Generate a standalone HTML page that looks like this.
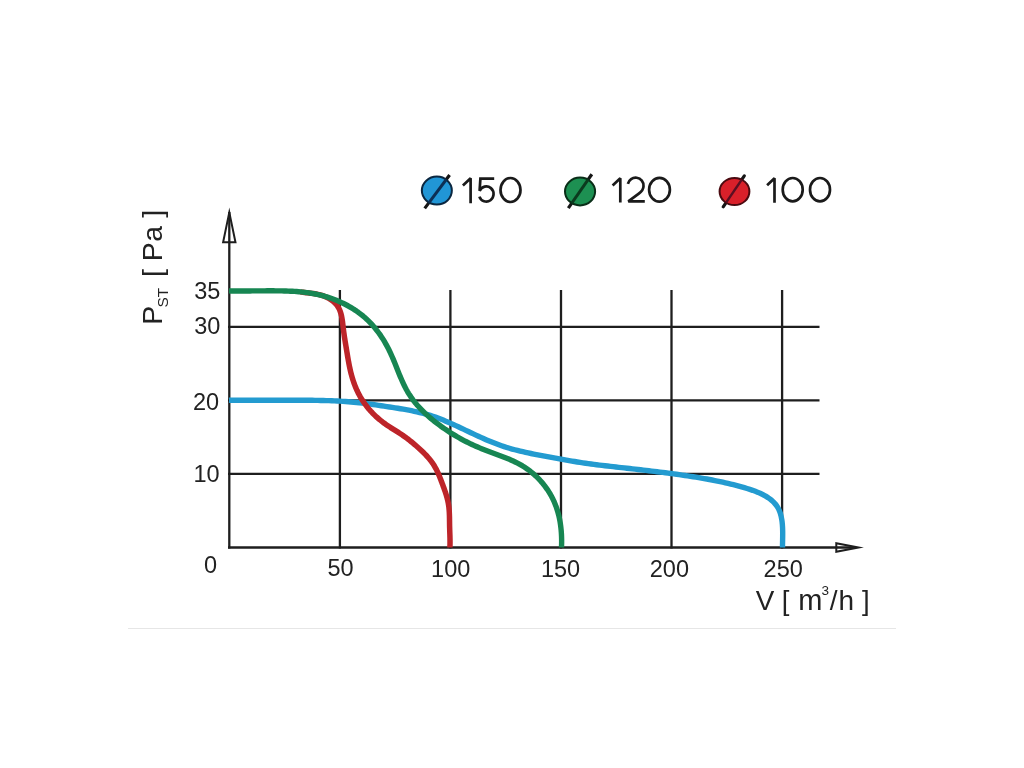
<!DOCTYPE html>
<html><head><meta charset="utf-8"><style>
html,body{margin:0;padding:0;background:#fff;width:1024px;height:768px;overflow:hidden}
svg{display:block;will-change:transform}
text{font-family:"Liberation Sans",sans-serif;fill:#222}
</style></head><body>
<svg width="1024" height="768" viewBox="0 0 1024 768">
<rect width="1024" height="768" fill="#fff"/>
<line x1="128" y1="628.5" x2="896" y2="628.5" stroke="#e6e6e6" stroke-width="1"/>
<g stroke="#1e1e1e" stroke-width="2.3" fill="none">
<line x1="339.9" y1="290" x2="339.9" y2="548.5"/><line x1="450.4" y1="290" x2="450.4" y2="548.5"/><line x1="561.0" y1="290" x2="561.0" y2="548.5"/><line x1="671.5" y1="290" x2="671.5" y2="548.5"/><line x1="782.1" y1="290" x2="782.1" y2="548.5"/><line x1="228" y1="473.9" x2="819.5" y2="473.9"/><line x1="228" y1="400.4" x2="819.5" y2="400.4"/><line x1="228" y1="326.9" x2="819.5" y2="326.9"/>
<line x1="229.3" y1="212" x2="229.3" y2="548.6"/>
<line x1="228" y1="547.5" x2="856" y2="547.5" stroke-width="2.5"/>
<path d="M229.3 207.4 L236.7 243.3 L221.9 243.3 Z M229.3 217.3 L224.35 241.3 L234.25 241.3 Z" stroke="none" fill="#1e1e1e" fill-rule="evenodd"/>
<path d="M863.9 547.5 L835.3 552.9 L835.3 542.1 Z M853.1 547.5 L837.3 544.5 L837.3 550.5 Z" stroke="none" fill="#1e1e1e" fill-rule="evenodd"/>
</g>
<g fill="none" stroke-linecap="butt" stroke-linejoin="round">
<path d="M229.00 400.20 L231.77 400.20 L234.55 400.20 L237.32 400.20 L240.10 400.20 L242.87 400.20 L245.65 400.20 L248.42 400.20 L251.20 400.20 L253.97 400.20 L256.75 400.20 L259.53 400.20 L262.30 400.20 L265.08 400.20 L267.85 400.20 L270.63 400.20 L273.40 400.20 L276.17 400.20 L278.95 400.20 L281.72 400.19 L284.50 400.19 L287.27 400.19 L290.04 400.20 L292.82 400.20 L295.59 400.21 L298.37 400.22 L301.14 400.23 L303.92 400.25 L306.70 400.27 L309.47 400.29 L312.25 400.32 L315.03 400.36 L317.81 400.40 L320.59 400.45 L323.37 400.51 L326.14 400.59 L328.92 400.67 L331.70 400.77 L334.47 400.88 L337.24 401.01 L340.01 401.16 L342.78 401.33 L345.54 401.51 L348.31 401.72 L351.06 401.95 L353.82 402.21 L356.57 402.48 L359.32 402.78 L362.07 403.09 L364.81 403.42 L367.56 403.77 L370.30 404.14 L373.05 404.51 L375.79 404.90 L378.53 405.30 L381.28 405.71 L384.02 406.13 L386.77 406.55 L389.52 406.97 L392.27 407.40 L395.02 407.84 L397.77 408.28 L400.52 408.73 L403.27 409.20 L406.02 409.68 L408.76 410.19 L411.49 410.72 L414.21 411.28 L416.92 411.87 L419.62 412.50 L422.31 413.16 L424.98 413.87 L427.63 414.62 L430.27 415.41 L432.89 416.26 L435.49 417.16 L438.07 418.10 L440.64 419.08 L443.19 420.10 L445.73 421.15 L448.27 422.24 L450.79 423.35 L453.31 424.48 L455.82 425.63 L458.33 426.79 L460.83 427.97 L463.33 429.16 L465.84 430.35 L468.34 431.54 L470.85 432.73 L473.36 433.92 L475.88 435.09 L478.41 436.26 L480.94 437.41 L483.47 438.54 L486.02 439.66 L488.57 440.75 L491.14 441.81 L493.71 442.84 L496.30 443.84 L498.89 444.81 L501.50 445.74 L504.13 446.62 L506.77 447.47 L509.42 448.27 L512.08 449.03 L514.76 449.75 L517.45 450.44 L520.14 451.10 L522.85 451.73 L525.56 452.34 L528.27 452.92 L530.99 453.49 L533.72 454.04 L536.44 454.58 L539.17 455.11 L541.90 455.63 L544.62 456.14 L547.35 456.66 L550.07 457.17 L552.79 457.68 L555.51 458.18 L558.23 458.68 L560.96 459.17 L563.68 459.66 L566.40 460.14 L569.13 460.61 L571.86 461.07 L574.59 461.53 L577.32 461.97 L580.06 462.40 L582.81 462.81 L585.56 463.22 L588.31 463.61 L591.07 463.99 L593.83 464.35 L596.59 464.71 L599.36 465.06 L602.13 465.40 L604.89 465.73 L607.66 466.05 L610.43 466.37 L613.19 466.69 L615.96 467.00 L618.72 467.31 L621.47 467.62 L624.22 467.92 L626.97 468.23 L629.71 468.53 L632.45 468.84 L635.19 469.15 L637.92 469.46 L640.66 469.77 L643.39 470.09 L646.13 470.41 L648.87 470.73 L651.61 471.06 L654.35 471.39 L657.10 471.73 L659.85 472.07 L662.61 472.42 L665.38 472.77 L668.16 473.14 L670.94 473.51 L673.72 473.88 L676.51 474.27 L679.29 474.66 L682.08 475.06 L684.86 475.47 L687.64 475.88 L690.41 476.31 L693.17 476.74 L695.92 477.18 L698.66 477.63 L701.39 478.09 L704.10 478.55 L706.79 479.03 L709.47 479.52 L712.14 480.02 L714.80 480.53 L717.45 481.06 L720.10 481.61 L722.75 482.18 L725.40 482.77 L728.06 483.38 L730.73 484.02 L733.41 484.69 L736.10 485.38 L738.81 486.11 L741.54 486.87 L744.29 487.67 L747.07 488.50 L749.85 489.38 L752.62 490.32 L755.35 491.32 L758.04 492.39 L760.67 493.55 L763.22 494.79 L765.67 496.14 L768.00 497.59 L770.20 499.15 L772.25 500.84 L774.13 502.66 L775.83 504.63 L777.32 506.74 L778.60 509.01 L779.66 511.43 L780.53 513.98 L781.22 516.64 L781.75 519.39 L782.14 522.22 L782.41 525.09 L782.58 527.99 L782.67 530.90 L782.69 533.81 L782.67 536.68 L782.62 539.51 L782.56 542.27 L782.51 544.94 L782.50 547.50" stroke="#239bd0" stroke-width="5.4"/>
<path d="M300.20 291.86 L301.64 292.10 L303.09 292.31 L304.55 292.50 L306.02 292.67 L307.48 292.84 L308.95 293.01 L310.42 293.18 L311.89 293.37 L313.36 293.57 L314.82 293.79 L316.28 294.04 L317.73 294.33 L319.18 294.65 L320.61 295.02 L322.03 295.45 L323.44 295.92 L324.82 296.46 L326.19 297.04 L327.52 297.69 L328.82 298.38 L330.08 299.14 L331.30 299.94 L332.47 300.81 L333.58 301.72 L334.64 302.69 L335.64 303.72 L336.57 304.80 L337.42 305.93 L338.20 307.12 L338.90 308.36 L339.52 309.65 L340.07 310.98 L340.55 312.36 L340.97 313.77 L341.34 315.21 L341.67 316.68 L341.95 318.17 L342.20 319.68 L342.42 321.19 L342.62 322.72 L342.81 324.24 L342.99 325.77 L343.16 327.29 L343.34 328.79 L343.52 330.28 L343.71 331.76 L343.91 333.22 L344.12 334.67 L344.33 336.12 L344.55 337.55 L344.77 338.98 L345.00 340.41 L345.23 341.83 L345.46 343.25 L345.69 344.67 L345.93 346.10 L346.17 347.52 L346.40 348.96 L346.64 350.40 L346.88 351.85 L347.12 353.30 L347.36 354.76 L347.60 356.22 L347.85 357.68 L348.10 359.15 L348.36 360.62 L348.63 362.09 L348.90 363.56 L349.19 365.02 L349.48 366.48 L349.79 367.94 L350.11 369.40 L350.44 370.84 L350.79 372.28 L351.15 373.72 L351.53 375.14 L351.92 376.56 L352.33 377.97 L352.77 379.38 L353.21 380.77 L353.68 382.16 L354.17 383.54 L354.68 384.91 L355.21 386.27 L355.77 387.62 L356.34 388.96 L356.94 390.30 L357.57 391.62 L358.22 392.94 L358.89 394.24 L359.59 395.53 L360.31 396.82 L361.06 398.09 L361.83 399.34 L362.62 400.59 L363.43 401.82 L364.27 403.04 L365.13 404.24 L366.01 405.43 L366.91 406.60 L367.84 407.76 L368.79 408.90 L369.75 410.02 L370.74 411.13 L371.75 412.21 L372.77 413.28 L373.82 414.34 L374.88 415.37 L375.96 416.39 L377.05 417.38 L378.16 418.36 L379.28 419.32 L380.41 420.25 L381.56 421.17 L382.72 422.07 L383.89 422.95 L385.07 423.80 L386.26 424.64 L387.45 425.46 L388.65 426.26 L389.86 427.05 L391.08 427.83 L392.29 428.61 L393.51 429.37 L394.73 430.14 L395.95 430.90 L397.16 431.67 L398.38 432.44 L399.59 433.22 L400.79 434.01 L401.99 434.81 L403.18 435.62 L404.36 436.45 L405.54 437.29 L406.70 438.15 L407.86 439.03 L409.02 439.92 L410.16 440.82 L411.30 441.73 L412.44 442.66 L413.57 443.60 L414.69 444.55 L415.80 445.51 L416.91 446.49 L418.02 447.47 L419.12 448.47 L420.21 449.47 L421.30 450.49 L422.38 451.52 L423.45 452.56 L424.50 453.61 L425.54 454.68 L426.56 455.76 L427.56 456.86 L428.54 457.97 L429.49 459.10 L430.41 460.25 L431.31 461.41 L432.18 462.59 L433.01 463.80 L433.81 465.02 L434.57 466.27 L435.29 467.53 L435.99 468.81 L436.66 470.11 L437.30 471.43 L437.92 472.75 L438.52 474.09 L439.09 475.44 L439.65 476.80 L440.20 478.16 L440.74 479.53 L441.26 480.91 L441.78 482.29 L442.30 483.67 L442.81 485.05 L443.32 486.44 L443.83 487.82 L444.33 489.21 L444.81 490.60 L445.28 491.99 L445.74 493.38 L446.18 494.78 L446.60 496.19 L446.99 497.60 L447.37 499.01 L447.71 500.43 L448.02 501.86 L448.30 503.30 L448.54 504.75 L448.75 506.20 L448.93 507.66 L449.07 509.13 L449.19 510.60 L449.29 512.08 L449.36 513.56 L449.42 515.04 L449.46 516.53 L449.49 518.02 L449.51 519.51 L449.53 520.99 L449.55 522.48 L449.57 523.96 L449.59 525.44 L449.62 526.91 L449.67 528.38 L449.71 529.85 L449.76 531.31 L449.81 532.78 L449.86 534.24 L449.91 535.70 L449.95 537.16 L449.98 538.63 L450.01 540.09 L450.02 541.56 L450.02 543.04 L450.00 544.52 L449.96 546.01 L449.90 547.50" stroke="#bd2429" stroke-width="5.5"/>
<path d="M229.00 290.90 L231.10 290.93 L233.21 290.95 L235.32 290.96 L237.43 290.97 L239.55 290.97 L241.66 290.97 L243.78 290.96 L245.90 290.95 L248.02 290.94 L250.14 290.93 L252.26 290.91 L254.38 290.90 L256.51 290.88 L258.63 290.86 L260.75 290.85 L262.87 290.84 L264.99 290.83 L267.11 290.82 L269.23 290.82 L271.34 290.82 L273.46 290.82 L275.57 290.84 L277.68 290.85 L279.79 290.88 L281.89 290.92 L284.00 290.96 L286.10 291.02 L288.20 291.10 L290.29 291.18 L292.39 291.29 L294.48 291.41 L296.57 291.56 L298.65 291.72 L300.74 291.91 L302.82 292.13 L304.90 292.37 L306.98 292.64 L309.05 292.93 L311.13 293.26 L313.20 293.62 L315.26 294.02 L317.33 294.45 L319.39 294.91 L321.45 295.42 L323.51 295.96 L325.57 296.54 L327.61 297.17 L329.65 297.83 L331.68 298.53 L333.70 299.27 L335.71 300.05 L337.71 300.86 L339.68 301.72 L341.65 302.61 L343.59 303.54 L345.51 304.51 L347.41 305.51 L349.29 306.55 L351.14 307.63 L352.96 308.75 L354.76 309.90 L356.53 311.09 L358.26 312.31 L359.96 313.57 L361.63 314.87 L363.26 316.20 L364.85 317.57 L366.41 318.97 L367.93 320.41 L369.41 321.88 L370.86 323.38 L372.27 324.91 L373.65 326.47 L375.00 328.06 L376.31 329.68 L377.58 331.32 L378.82 332.99 L380.03 334.69 L381.21 336.42 L382.36 338.16 L383.47 339.93 L384.55 341.72 L385.60 343.53 L386.63 345.37 L387.62 347.22 L388.58 349.09 L389.51 350.98 L390.42 352.88 L391.30 354.80 L392.15 356.74 L392.98 358.68 L393.80 360.64 L394.60 362.60 L395.40 364.57 L396.19 366.54 L396.97 368.51 L397.76 370.48 L398.55 372.45 L399.35 374.41 L400.16 376.37 L400.99 378.31 L401.84 380.25 L402.70 382.18 L403.59 384.09 L404.52 385.98 L405.47 387.85 L406.46 389.71 L407.49 391.54 L408.56 393.34 L409.68 395.12 L410.85 396.87 L412.06 398.59 L413.31 400.29 L414.61 401.96 L415.95 403.60 L417.32 405.22 L418.73 406.80 L420.18 408.37 L421.66 409.91 L423.17 411.42 L424.70 412.91 L426.27 414.37 L427.86 415.81 L429.47 417.22 L431.11 418.61 L432.76 419.98 L434.44 421.32 L436.13 422.64 L437.83 423.93 L439.54 425.21 L441.27 426.46 L443.01 427.69 L444.75 428.89 L446.50 430.08 L448.26 431.24 L450.03 432.39 L451.80 433.51 L453.59 434.61 L455.39 435.68 L457.19 436.74 L459.01 437.78 L460.83 438.80 L462.67 439.79 L464.51 440.77 L466.37 441.73 L468.23 442.66 L470.11 443.58 L472.00 444.48 L473.90 445.35 L475.81 446.21 L477.73 447.05 L479.67 447.87 L481.61 448.68 L483.57 449.46 L485.54 450.23 L487.52 450.98 L489.51 451.73 L491.50 452.47 L493.50 453.20 L495.49 453.94 L497.49 454.67 L499.48 455.42 L501.47 456.17 L503.46 456.93 L505.44 457.71 L507.40 458.51 L509.36 459.33 L511.30 460.18 L513.22 461.05 L515.13 461.96 L517.02 462.90 L518.88 463.87 L520.73 464.89 L522.55 465.95 L524.34 467.06 L526.10 468.22 L527.83 469.43 L529.53 470.69 L531.20 472.00 L532.84 473.35 L534.43 474.74 L536.00 476.18 L537.52 477.66 L539.01 479.18 L540.45 480.74 L541.86 482.34 L543.22 483.97 L544.54 485.64 L545.82 487.34 L547.04 489.07 L548.23 490.84 L549.36 492.63 L550.44 494.45 L551.47 496.30 L552.46 498.17 L553.38 500.07 L554.26 501.99 L555.07 503.93 L555.84 505.89 L556.55 507.87 L557.20 509.87 L557.81 511.88 L558.37 513.91 L558.88 515.95 L559.34 518.00 L559.75 520.07 L560.12 522.15 L560.45 524.24 L560.73 526.33 L560.97 528.44 L561.18 530.54 L561.34 532.66 L561.47 534.78 L561.56 536.90 L561.61 539.02 L561.63 541.14 L561.62 543.26 L561.57 545.38 L561.50 547.50" stroke="#178652" stroke-width="5.4"/>
</g>
<g font-size="23.5">
<text x="207.3" y="298.5" text-anchor="middle">35</text>
<text x="207.3" y="334" text-anchor="middle">30</text>
<text x="206" y="410" text-anchor="middle">20</text>
<text x="206.6" y="482.3" text-anchor="middle">10</text>
<text x="210.5" y="572.5" text-anchor="middle">0</text>
<text x="340.5" y="576.3" text-anchor="middle">50</text>
<text x="450.7" y="577.3" text-anchor="middle">100</text>
<text x="560.5" y="577.3" text-anchor="middle">150</text>
<text x="669.4" y="577.3" text-anchor="middle">200</text>
<text x="783.2" y="577.3" text-anchor="middle">250</text>
</g>
<g>
<text x="755.8" y="609.5" font-size="27.8">V</text>
<text x="781.7" y="609.5" font-size="27.5">[</text>
<text x="798.2" y="609.7" font-size="29">m</text>
<text x="821.5" y="595" font-size="13.5">3</text>
<text x="829.8" y="609.7" font-size="28">/</text>
<text x="838.4" y="609.7" font-size="28">h</text>
<text x="862" y="609.5" font-size="27.5">]</text>
</g>
<g transform="rotate(-90)">
<text x="-324.8" y="162.1" font-size="28.5">P</text>
<text x="-307.6" y="167.5" font-size="15.5">ST</text>
<text x="-276.9" y="162.1" font-size="28.5">[</text>
<text x="-261.3" y="162.1" font-size="28.5">P</text>
<text x="-241.8" y="162.1" font-size="28.5">a</text>
<text x="-217.8" y="162.1" font-size="28.5">]</text>
</g>
<!-- legend -->
<defs>
<clipPath id="cb"><ellipse cx="436.85" cy="190.55" rx="15" ry="13.95"/></clipPath>
<clipPath id="cg"><ellipse cx="580.05" cy="191.5" rx="15.05" ry="13.9"/></clipPath>
<clipPath id="cr"><ellipse cx="734.5" cy="191.5" rx="14.9" ry="13.6"/></clipPath>
</defs>
<g stroke="#161616" stroke-width="3.2">
<line x1="425.65" y1="207.1" x2="448.65" y2="176.3" stroke-linecap="square"/>
<line x1="569.2" y1="206.8" x2="590.9" y2="175.6" stroke-linecap="square"/>
<line x1="723.2" y1="206.8" x2="744.3" y2="175.9" stroke-linecap="round"/>
</g>
<g stroke-width="2">
<ellipse cx="436.85" cy="190.55" rx="15" ry="13.95" fill="#2196d6" stroke="#0b2740"/>
<ellipse cx="580.05" cy="191.5" rx="15.05" ry="13.9" fill="#1d9052" stroke="#0a2e18"/>
<ellipse cx="734.5" cy="191.5" rx="14.9" ry="13.6" fill="#d9202a" stroke="#4a0a10"/>
</g>
<g stroke-width="3">
<line x1="425.65" y1="207.1" x2="448.65" y2="176.3" stroke="#0c2f55" clip-path="url(#cb)"/>
<line x1="569.2" y1="206.8" x2="590.9" y2="175.6" stroke="#0b3a1e" clip-path="url(#cg)"/>
<line x1="723.2" y1="206.8" x2="744.3" y2="175.9" stroke="#5a0f22" stroke-width="2.4" clip-path="url(#cr)"/>
</g>
<g fill="none" stroke="#1a1a1a" stroke-width="2.7" stroke-linecap="butt" stroke-linejoin="miter" stroke-miterlimit="2.2">
<!-- 150 -->
<path d="M462.9 185.4 L470.6 178.2 L470.6 203.2"/>
<path d="M494.2 178.6 L480.4 178.6 L479.6 190.9 A7.3 7.6 0 1 1 479.4 196.6"/>
<ellipse cx="510.5" cy="190" rx="10" ry="12"/>
<!-- 120 -->
<path d="M612.6 185.4 L620.3 178.2 L620.3 202.6"/>
<path d="M627.9 183.9 A7.9 7.9 0 0 1 643.5 186.2 C643.5 189.3 641.8 191.3 638.8 193.6 L628.3 201.4 L644.8 201.4"/>
<ellipse cx="659.5" cy="189.7" rx="10.4" ry="11.9"/>
<!-- 100 -->
<path d="M767.1 185.2 L774.5 178.2 L774.5 202.8"/>
<ellipse cx="792.7" cy="189.7" rx="10" ry="11.7"/>
<ellipse cx="820" cy="189.7" rx="10" ry="11.7"/>
</g>
</svg>
</body></html>
